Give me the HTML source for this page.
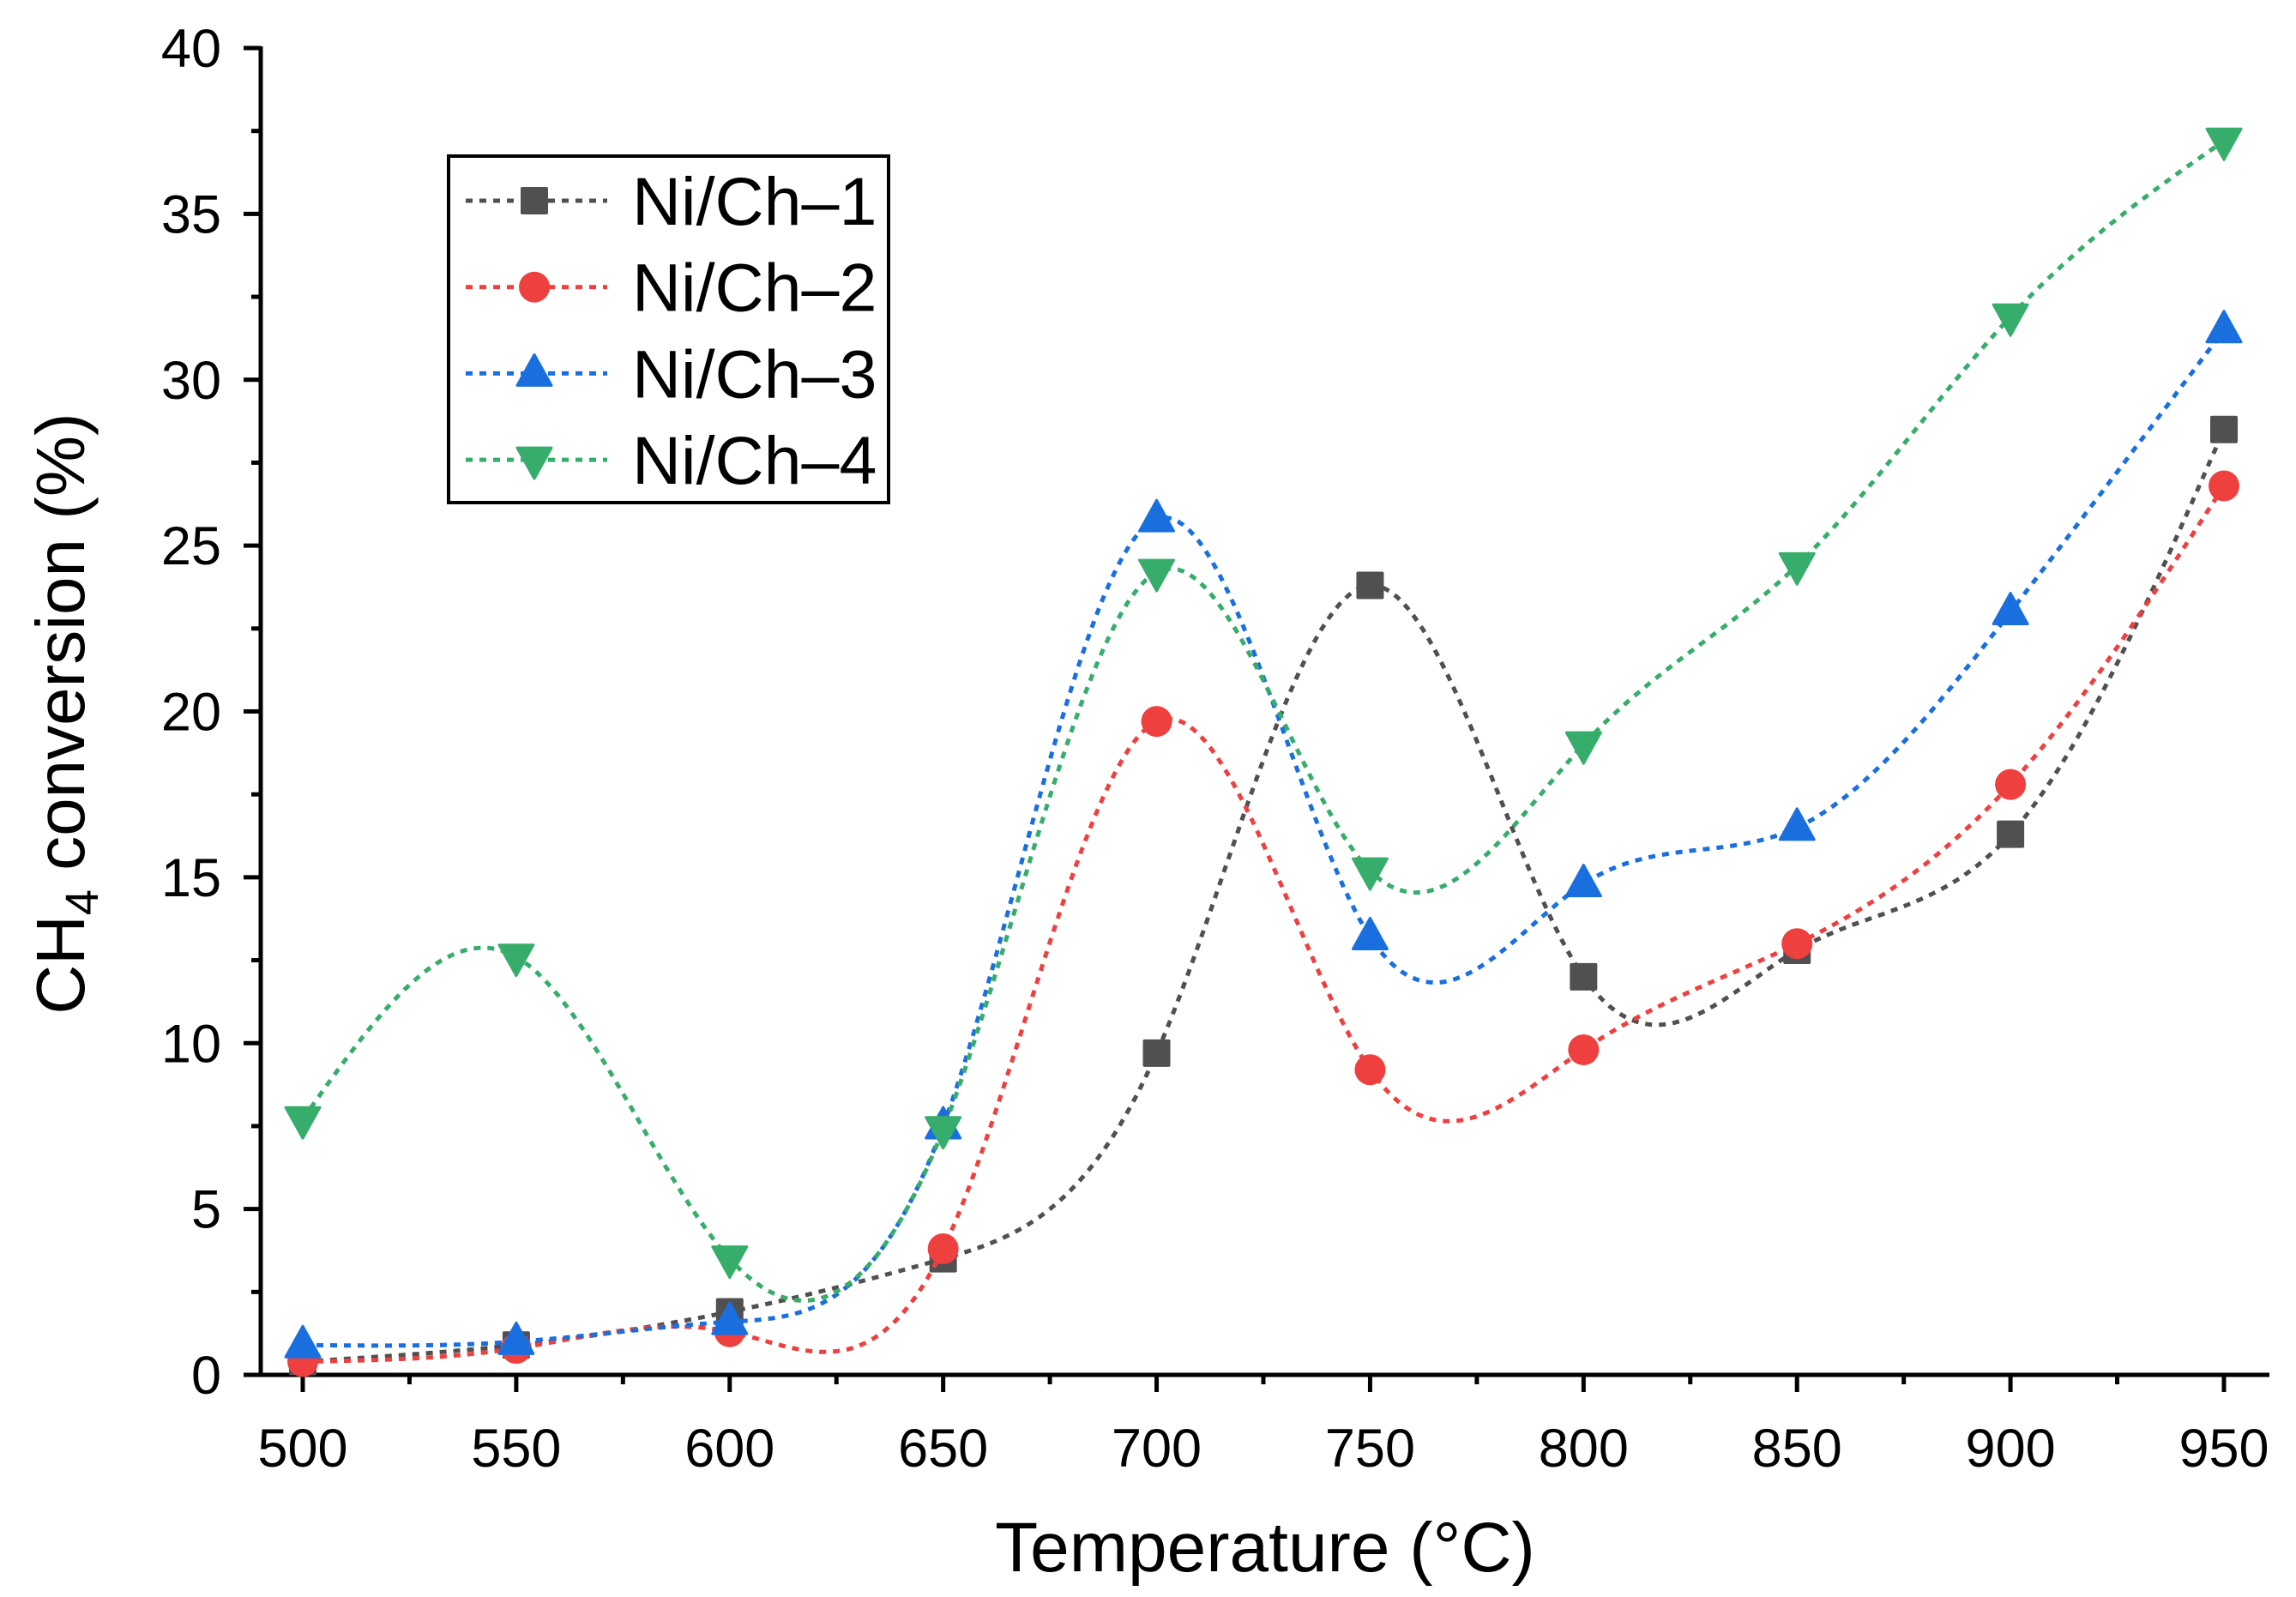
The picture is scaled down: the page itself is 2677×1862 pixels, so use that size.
<!DOCTYPE html>
<html><head><meta charset="utf-8"><style>
html,body{margin:0;padding:0;background:#fff;}
svg{display:block;font-family:"Liberation Sans",Arial,sans-serif;}
</style></head><body>
<svg id="chart" width="2677" height="1862" viewBox="0 0 2677 1862" xmlns="http://www.w3.org/2000/svg">
<g id="axes"></g>
<g id="series"></g>
<g id="legend"></g>
</svg>
<script>
const temps = [500,550,600,650,700,750,800,850,900,950];
const ch1 = [0.4,0.9,1.9,3.5,9.7,23.8,12.0,12.8,16.3,28.5];
const ch2 = [0.4,0.8,1.3,3.8,19.7,9.2,9.8,13.0,17.8,26.8];
const ch3 = [0.9,1.0,1.6,7.5,25.8,13.2,14.8,16.5,23.0,31.5];
const ch4 = [7.7,12.6,3.5,7.4,24.2,15.2,19.0,24.4,31.9,37.2];
const seriesNames = ["Ni/Ch\u20131","Ni/Ch\u20132","Ni/Ch\u20133","Ni/Ch\u20134"];
const xTicks = [500,550,600,650,700,750,800,850,900,950];
const yTicks = [0,5,10,15,20,25,30,35,40];

const NS="http://www.w3.org/2000/svg";
const X0=353,X1=2593,Y0=1603,Y1=56,AXL=304,AXR=2646;
function xs(v){return X0+(v-500)/450*(X1-X0);}
function ys(v){return Y0-(v/40)*(Y0-Y1);}
function mk(tag,attrs,parent){const e=document.createElementNS(NS,tag);for(const k in attrs)e.setAttribute(k,attrs[k]);parent.appendChild(e);return e;}

const axes=document.getElementById('axes');
let a=mk('line',{x1:AXL,y1:Y0,x2:AXR,y2:Y0,stroke:'#000','stroke-width':5},axes);

a=mk('line',{x1:AXL,y1:Y0+2,x2:AXL,y2:Y1-2,stroke:'#000','stroke-width':5},axes);

xTicks.forEach((t,i)=>{
  const x=xs(t);
  const l=mk('line',{x1:x,y1:Y0,x2:x,y2:Y0+20,stroke:'#000','stroke-width':5},axes);
  
  if(i<xTicks.length-1){const m=mk('line',{x1:xs(t+25),y1:Y0,x2:xs(t+25),y2:Y0+11,stroke:'#000','stroke-width':5},axes);
  }
  const tx=mk('text',{x:x,y:1710,'text-anchor':'middle','font-size':63},axes);tx.textContent=t;
  
});
yTicks.forEach((t,i)=>{
  const y=ys(t);
  const l=mk('line',{x1:AXL-20,y1:y,x2:AXL,y2:y,stroke:'#000','stroke-width':5},axes);
  
  if(i<yTicks.length-1){const m=mk('line',{x1:AXL-11,y1:ys(t+2.5),x2:AXL,y2:ys(t+2.5),stroke:'#000','stroke-width':5},axes);
  }
  const tx=mk('text',{x:258,y:y+22,'text-anchor':'end','font-size':63},axes);tx.textContent=t;
  
});
let xt=mk('text',{x:1475,y:1832,'text-anchor':'middle','font-size':82},axes);xt.textContent='Temperature (\u00B0C)';

let yt=mk('text',{x:0,y:0,'text-anchor':'middle','font-size':80,transform:'translate(98,832) rotate(-90)'},axes);
yt.innerHTML='CH<tspan font-size="54" dy="16">4</tspan><tspan dy="-16"> conversion (%)</tspan>';


function spline(xv,yv){
  const n=xv.length,h=[],al=[],l=[1],mu=[0],z=[0],c=new Array(n).fill(0),b=[],d=[];
  for(let i=0;i<n-1;i++)h.push(xv[i+1]-xv[i]);
  for(let i=1;i<n-1;i++)al[i]=3/h[i]*(yv[i+1]-yv[i])-3/h[i-1]*(yv[i]-yv[i-1]);
  for(let i=1;i<n-1;i++){l[i]=2*(xv[i+1]-xv[i-1])-h[i-1]*mu[i-1];mu[i]=h[i]/l[i];z[i]=(al[i]-h[i-1]*z[i-1])/l[i];}
  for(let j=n-2;j>=0;j--){c[j]=(j>0?z[j]-mu[j]*c[j+1]:0);if(j===0)c[0]=0;b[j]=(yv[j+1]-yv[j])/h[j]-h[j]*(c[j+1]+2*c[j])/3;d[j]=(c[j+1]-c[j])/(3*h[j]);}
  const pts=[];
  for(let i=0;i<n-1;i++)for(let k=0;k<40;k++){const dx=h[i]*k/40;pts.push([xv[i]+dx,yv[i]+b[i]*dx+c[i]*dx*dx+d[i]*dx*dx*dx]);}
  pts.push([xv[n-1],yv[n-1]]);return pts;
}
const colors=['#505050','#EF4040','#1A6FDF','#37AD6B'];
const shapes=['square','circle','up','down'];
function marker(g,shape,x,y,col){
  let e;
  if(shape==='square')e=mk('rect',{x:x-16,y:y-16,width:32,height:32,rx:2,fill:col},g);
  else if(shape==='circle')e=mk('circle',{cx:x,cy:y,r:18,fill:col},g);
  else if(shape==='up')e=mk('polygon',{points:`${x},${y-22} ${x-20},${y+14} ${x+20},${y+14}`,fill:col,'stroke':col,'stroke-width':3,'stroke-linejoin':'round'},g);
  else e=mk('polygon',{points:`${x},${y+22} ${x-20},${y-14} ${x+20},${y-14}`,fill:col,'stroke':col,'stroke-width':3,'stroke-linejoin':'round'},g);
  return e;
}
const data=[ch1,ch2,ch3,ch4];
const sg=document.getElementById('series');
data.forEach((vals,si)=>{
  const g=mk('g',{},sg);
  
  const pts=spline(temps,vals);
  const p=mk('path',{d:'M'+pts.map(q=>xs(q[0]).toFixed(1)+','+ys(q[1]).toFixed(1)).join('L'),fill:'none',stroke:colors[si],'stroke-width':5,'stroke-dasharray':'8 8'},g);
  
  temps.forEach((t,i)=>{const m=marker(g,shapes[si],xs(t),ys(vals[i]),colors[si]);
    });
});
const lg=document.getElementById('legend');
let box=mk('rect',{x:523,y:182,width:513,height:404,fill:'#fff',stroke:'#000','stroke-width':4},lg);

seriesNames.forEach((nm,si)=>{
  const y=234+si*100.7;
  const g=mk('g',{},lg);
  mk('line',{x1:543,y1:y,x2:708,y2:y,stroke:colors[si],'stroke-width':5,'stroke-dasharray':'8 8'},g);
  marker(g,shapes[si],623,y,colors[si]);
  const t=mk('text',{x:737,y:y+28,'font-size':79},g);t.textContent=nm;
});
</script>
</body></html>
